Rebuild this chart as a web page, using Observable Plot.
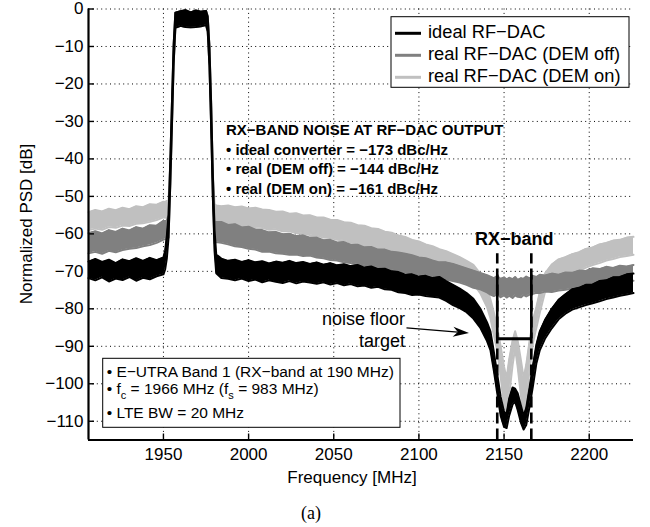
<!DOCTYPE html>
<html><head><meta charset="utf-8">
<script src="https://cdn.jsdelivr.net/npm/d3@7"></script>
<script src="https://cdn.jsdelivr.net/npm/@observablehq/plot@0.6"></script>
<style>html,body{margin:0;padding:0;background:#fff}svg{display:block}</style>
</head><body><div id="chart"></div>
<script>
// ---------- data ----------
const freq = [1906,1910,1914,1918,1922,1926,1930,1934,1938,1942,1946,1950,
 1951,1952,1953,1954,1955,1956,1957,1960,1963,1966,1969,1972,1975,1976,1977,1978,1979,1980,1981,
 1984,1988,1992,1996,2000,2004,2008,2012,2016,2020,2024,2028,2032,2036,2040,2044,2048,2052,2056,2060,
 2064,2068,2072,2076,2080,2084,2088,2092,2096,2100,2104,2108,2112,2116,2120,2124,2128,2132,2136,2140,
 2142,2144,2146,2148,2150,2151.5,2153,2155,2156.5,2158,2160,2161.5,2163,2165,2167,2169,2171,
 2174,2178,2182,2186,2190,2194,2198,2202,2206,2210,2214,2218,2222,2226];

const idealHi = [-67.4,-66.7,-67.5,-66.9,-67.8,-66.8,-67.3,-66.5,-67.2,-66.4,-67.0,-66.3,
 -64.5,-60.5,-55,-41,-25,-9.5,-1.0,-0.6,-0.3,-0.9,-0.4,-0.7,-0.5,-2.0,-10,-25,-44,-59,-65.5,
 -66.6,-67.2,-66.9,-67.5,-67.0,-67.6,-67.3,-67.9,-67.4,-67.7,-67.2,-67.8,-67.5,-68.0,-67.6,-68.2,-67.8,-68.4,-68.1,-68.6,
 -68.3,-69.0,-68.7,-69.4,-69.3,-70.0,-70.2,-70.9,-70.8,-71.4,-71.2,-71.8,-71.5,-72.6,-73.6,-74.6,-75.8,-77.3,-79.9,-83.6,
 -86.0,-91.5,-97.5,-103.5,-107.5,-108.0,-104.0,-101.0,-101.3,-102.5,-106.0,-108.5,-106.5,-101.0,-95.0,-89.5,-86.0,
 -83.0,-80.0,-77.6,-76.1,-74.8,-74.4,-73.6,-73.5,-72.6,-72.4,-71.6,-71.5,-70.8,-70.6];
const idealLo = [-71.8,-72.4,-71.6,-72.7,-71.9,-72.3,-71.5,-72.5,-71.7,-72.1,-71.3,-70.8,
 -69.5,-66.5,-61,-47,-31,-14.5,-5.0,-4.5,-4.8,-4.9,-4.8,-4.6,-4.3,-6.0,-15,-31,-50,-64.5,-70.5,
 -71.8,-72.0,-72.4,-71.9,-72.6,-72.2,-72.9,-72.4,-72.8,-73.1,-72.6,-73.2,-72.7,-73.0,-73.3,-72.9,-73.5,-73.1,-73.7,-73.4,
 -74.0,-73.8,-74.4,-74.1,-74.8,-74.9,-75.6,-75.8,-76.3,-76.2,-76.6,-76.8,-77.0,-77.9,-79.0,-79.8,-80.9,-82.6,-85.0,-88.6,
 -91.0,-96.5,-102.5,-108.5,-111.5,-111.8,-108.5,-105.5,-104.8,-107.0,-110.5,-112.2,-111.0,-106.0,-100.5,-94.5,-91.0,
 -88.0,-85.2,-82.8,-81.3,-80.2,-79.6,-79.0,-78.5,-78.0,-77.4,-77.0,-76.5,-76.2,-75.8];

const demOffHi = [-59.8,-59.3,-59.9,-59.0,-59.5,-58.6,-59.1,-58.2,-58.6,-57.7,-57.8,-56.5,
 -56.6,-56.4,-55,-41,-25,-9.5,-1.0,-0.6,-0.3,-0.9,-0.4,-0.7,-0.5,-2.0,-10,-25,-44,-57.0,-56.8,
 -56.8,-57.6,-57.4,-58.3,-58.1,-58.9,-59.0,-59.6,-59.5,-60.1,-60.0,-60.6,-60.4,-61.0,-61.0,-61.7,-61.6,-62.3,-62.2,-62.9,
 -62.9,-63.6,-63.5,-64.2,-64.2,-64.8,-65.0,-65.3,-65.7,-66.3,-66.5,-67.1,-67.6,-67.6,-68.0,-68.6,-69.2,-69.8,-70.4,-71.0,
 -71.4,-71.8,-71.3,-72.0,-71.6,-72.2,-71.7,-72.1,-71.5,-72.3,-71.8,-72.0,-71.4,-71.9,-71.2,-71.5,-70.9,
 -71.1,-70.6,-70.9,-70.3,-70.4,-69.8,-69.9,-69.2,-69.4,-68.8,-69.1,-68.5,-68.7,-68.3];
const demOffLo = [-65.2,-64.8,-65.3,-64.5,-64.9,-64.3,-64.0,-63.8,-63.3,-63.0,-62.4,-61.5,
 -61.4,-61.2,-61,-47,-31,-14.5,-5.0,-4.5,-4.8,-4.9,-4.8,-4.6,-4.3,-6.0,-15,-31,-50,-62.5,-62.2,
 -62.4,-62.8,-63.3,-63.5,-64.0,-64.2,-64.8,-64.7,-65.2,-65.3,-65.6,-65.5,-65.9,-65.8,-66.3,-66.5,-67.0,-67.1,-67.6,-67.8,
 -68.2,-68.4,-68.8,-69.0,-69.4,-69.6,-70.1,-70.3,-70.6,-70.8,-71.3,-71.4,-72.0,-72.2,-72.6,-73.0,-73.6,-74.4,-74.8,-75.6,
 -76.2,-76.6,-76.1,-76.9,-76.4,-77.0,-76.5,-77.1,-76.4,-76.8,-76.9,-76.3,-76.7,-76.2,-76.0,-75.7,-75.8,
 -75.4,-75.5,-75.1,-74.9,-74.6,-74.4,-73.9,-73.9,-73.5,-73.4,-73.0,-73.1,-72.6,-72.5];

const demOnHi = [-54.2,-53.6,-54.0,-53.3,-53.7,-53.0,-53.4,-52.6,-52.9,-52.1,-52.2,-51.4,
 -51.5,-51.2,-51.0,-41,-25,-9.5,-1.0,-0.6,-0.3,-0.9,-0.4,-0.7,-0.5,-2.0,-10,-25,-44,-52.0,-52.4,
 -52.6,-52.4,-52.9,-52.7,-53.2,-53.0,-53.5,-53.6,-54.1,-54.0,-54.6,-54.5,-55.1,-55.0,-55.6,-55.6,-56.2,-56.3,-56.9,-57.0,
 -57.7,-57.8,-58.5,-58.7,-59.4,-59.7,-60.4,-60.8,-61.6,-62.0,-62.8,-63.3,-64.1,-64.6,-65.4,-66.2,-67.2,-68.3,-70.6,-74.5,
 -77.5,-81.0,-85.0,-90.0,-95.5,-98.5,-93.5,-88.5,-86.0,-88.5,-94.0,-98.5,-95.0,-88.5,-83.0,-79.5,-75.5,
 -70.6,-68.2,-66.8,-66.2,-65.4,-64.9,-64.0,-63.6,-62.8,-62.4,-61.8,-61.6,-61.0,-60.8];
const demOnLo = [-59.0,-58.6,-58.9,-58.2,-58.4,-57.8,-57.9,-57.3,-57.2,-56.8,-56.3,-55.6,
 -55.7,-55.5,-56.0,-47,-31,-14.5,-5.0,-4.5,-4.8,-4.9,-4.8,-4.6,-4.3,-6.0,-15,-31,-50,-57.8,-57.6,
 -57.9,-58.1,-57.8,-58.4,-58.2,-58.6,-58.4,-58.9,-58.8,-59.3,-59.3,-59.8,-59.9,-60.3,-60.5,-61.0,-61.1,-61.6,-61.8,-62.3,
 -62.5,-63.1,-63.3,-63.9,-64.2,-64.8,-65.2,-65.9,-66.4,-67.0,-67.5,-68.2,-68.8,-69.4,-70.1,-70.9,-71.9,-73.3,-75.8,-79.5,
 -82.5,-87.0,-91.0,-98.0,-106.0,-107.5,-103.0,-95.0,-90.5,-95.5,-103.5,-107.5,-105.0,-96.0,-89.0,-85.0,-81.0,
 -75.6,-73.2,-71.8,-71.2,-70.4,-69.9,-69.0,-68.3,-67.8,-67.1,-66.7,-66.2,-65.9,-65.6];

const seriesNames = ["ideal RF\u2212DAC", "real RF\u2212DAC (DEM off)", "real RF\u2212DAC (DEM on)"];
const seriesColors = ["#000000", "#808080", "#c0c0c0"];

const xTicks = [1950, 2000, 2050, 2100, 2150, 2200];
const yTicks = [0, -10, -20, -30, -40, -50, -60, -70, -80, -90, -100, -110];
const xDomain = [1906, 2226];
const yDomain = [-115, 0];

const rxBand = [2146, 2166];      // RX band edges [MHz]
const rxCenter = 2156;
const rxDashTop = -65.3;          // top of dashed band-edge lines [dB]
const rxSolidTop = -71;           // top of solid "U" [dB]
const noiseTarget = -88;          // noise floor target [dB]
const arrowFrom = [2093, -85.2];
const arrowTo = [2129.7, -86.6];

const noiseTitle = "RX\u2212BAND NOISE AT RF\u2212DAC OUTPUT";
const noiseLines = ["\u2022 ideal converter = \u2212173 dBc/Hz",
                    "\u2022 real (DEM off) = \u2212144 dBc/Hz",
                    "\u2022 real (DEM on) = \u2212161 dBc/Hz"];
const infoLine1 = "\u2022 E\u2212UTRA Band 1 (RX\u2212band at 190 MHz)";
const infoLine3 = "\u2022 LTE BW = 20 MHz";
const targetLabel = ["noise floor", "target"];

// ---------- build tables ----------
const tables = [
  {hi: idealHi, lo: idealLo},
  {hi: demOffHi, lo: demOffLo},
  {hi: demOnHi, lo: demOnLo}
].map((s, k) => freq.map((f, i) => ({f, hi: s.hi[i], lo: s.lo[i], k})));

const FONT = "'Liberation Sans', Arial, Helvetica, sans-serif";
const W = 650, H = 527, mL = 88, mR = 17, mT = 8.5, mB = 87.5;
const fw = W - mL - mR, fh = H - mT - mB;
const fmt = d => d < 0 ? "\u2212" + Math.abs(d) : String(d);

const traceMarks = [];
for (const k of [2, 1, 0]) {
  const c = seriesColors[k];
  traceMarks.push(
    Plot.areaY(tables[k], {x: "f", y1: "lo", y2: "hi", fill: c, curve: "linear"}),
    Plot.line(tables[k], {x: "f", y: "lo", stroke: c, strokeWidth: 2}),
    Plot.line(tables[k], {x: "f", y: "hi", stroke: c, strokeWidth: 2})
  );
}

const chart = Plot.plot({
  width: W, height: H,
  marginLeft: mL, marginRight: mR, marginTop: mT, marginBottom: mB,
  style: {fontFamily: FONT, fontSize: "17px", color: "#000", background: "#fff", overflow: "visible"},
  x: {domain: xDomain, label: null},
  y: {domain: yDomain, label: null},
  marks: [
    Plot.ruleX(xTicks, {stroke: "#000", strokeWidth: 1, strokeDasharray: "1,3.4"}),
    Plot.ruleY(yTicks, {stroke: "#000", strokeWidth: 1, strokeDasharray: "1,3.4"}),
    ...traceMarks,
    Plot.ruleX(rxBand, {y1: yDomain[0], y2: rxDashTop, stroke: "#000", strokeWidth: 2.6, strokeDasharray: "11,5"}),
    Plot.ruleX(rxBand, {y1: noiseTarget, y2: rxSolidTop, stroke: "#000", strokeWidth: 2.6}),
    Plot.ruleY([noiseTarget], {x1: rxBand[0], x2: rxBand[1], stroke: "#000", strokeWidth: 3}),
    Plot.ruleX([xDomain[0]], {stroke: "#000", strokeWidth: 2.2}),
    Plot.ruleY([yDomain[0]], {stroke: "#000", strokeWidth: 2.2}),
    Plot.ruleY(yTicks, {insetRight: fw - 6, stroke: "#000", strokeWidth: 1.4}),
    Plot.ruleX(xTicks, {insetTop: fh - 6, stroke: "#000", strokeWidth: 1.4}),
    Plot.axisY({ticks: yTicks, tickSize: 0, tickPadding: 5, tickFormat: fmt, fontSize: 17, label: null}),
    Plot.axisX({ticks: xTicks, tickSize: 0, tickPadding: 8, tickFormat: d => String(d), fontSize: 17, label: null}),
    Plot.text([rxCenter], {x: d => d, y: () => rxDashTop, dy: -14, text: () => "RX\u2212band",
      fontWeight: "bold", fontSize: 18, textAnchor: "middle", fill: "#000"})
  ]
});
document.getElementById("chart").append(chart);

// ---------- annotations ----------
const sx = chart.scale("x"), sy = chart.scale("y");
const svg = d3.select(chart);
const g = svg.append("g").attr("font-family", FONT).attr("fill", "#000").attr("text-anchor", "start");

// axis labels
g.append("text").attr("x", 352).attr("y", 483).attr("text-anchor", "middle")
  .attr("font-size", 17).text("Frequency [MHz]");
g.append("text").attr("transform", "translate(32,224) rotate(-90)").attr("text-anchor", "middle")
  .attr("font-size", 17).text("Normalized PSD [dB]");
g.append("text").attr("x", 311).attr("y", 519).attr("text-anchor", "middle")
  .attr("font-family", "'Liberation Serif', 'Times New Roman', serif").attr("font-size", 18).text("(a)");

// legend
const lg = g.append("g");
lg.append("rect").attr("x", 391).attr("y", 16.7).attr("width", 238).attr("height", 70.6)
  .attr("fill", "#fff").attr("stroke", "#000").attr("stroke-width", 1);
seriesNames.forEach((name, i) => {
  const by = 38.3 + i * 22;
  lg.append("line").attr("x1", 395).attr("x2", 421).attr("y1", by - 5).attr("y2", by - 5)
    .attr("stroke", seriesColors[i]).attr("stroke-width", 3);
  lg.append("text").attr("x", 428).attr("y", by).attr("font-size", 18.3).text(name);
});

// bold noise block
const nb = g.append("g").attr("font-weight", "bold").attr("font-size", 15);
nb.append("text").attr("x", 226).attr("y", 135).text(noiseTitle);
noiseLines.forEach((t, i) => nb.append("text").attr("x", 226).attr("y", 154.5 + i * 19.5).text(t));

// info box
const ib = g.append("g").attr("font-size", 15.5);
ib.append("rect").attr("x", 102.7).attr("y", 358.3).attr("width", 297.3).attr("height", 69)
  .attr("fill", "#fff").attr("stroke", "#000").attr("stroke-width", 1);
ib.append("text").attr("x", 106.7).attr("y", 376.5).text(infoLine1);
const t2 = ib.append("text").attr("x", 106.7).attr("y", 394);
t2.append("tspan").text("\u2022 f");
t2.append("tspan").attr("dy", 5).attr("font-size", 11).text("c");
t2.append("tspan").attr("dy", -5).text(" = 1966 MHz (f");
t2.append("tspan").attr("dy", 5).attr("font-size", 11).text("s");
t2.append("tspan").attr("dy", -5).text(" = 983 MHz)");
ib.append("text").attr("x", 106.7).attr("y", 418.3).text(infoLine3);

// noise floor target text + arrow
targetLabel.forEach((t, i) => g.append("text").attr("x", 405).attr("y", 325 + i * 22)
  .attr("text-anchor", "end").attr("font-size", 18).text(t));
const ax0 = sx.apply(arrowFrom[0]), ay0 = sy.apply(arrowFrom[1]);
const ax1 = sx.apply(arrowTo[0]), ay1 = sy.apply(arrowTo[1]);
const L = Math.hypot(ax1 - ax0, ay1 - ay0), ux = (ax1 - ax0) / L, uy = (ay1 - ay0) / L;
const nx = -uy, ny = ux, hl = 16, hw = 5;
g.append("line").attr("x1", ax0).attr("y1", ay0).attr("x2", ax1 - ux * hl * 0.7).attr("y2", ay1 - uy * hl * 0.7)
  .attr("stroke", "#000").attr("stroke-width", 1.2);
g.append("path").attr("d",
  `M${ax1},${ay1}L${ax1 - ux*hl + nx*hw},${ay1 - uy*hl + ny*hw}L${ax1 - ux*hl*0.7},${ay1 - uy*hl*0.7}L${ax1 - ux*hl - nx*hw},${ay1 - uy*hl - ny*hw}Z`)
  .attr("fill", "#000");
</script>
</body></html>
